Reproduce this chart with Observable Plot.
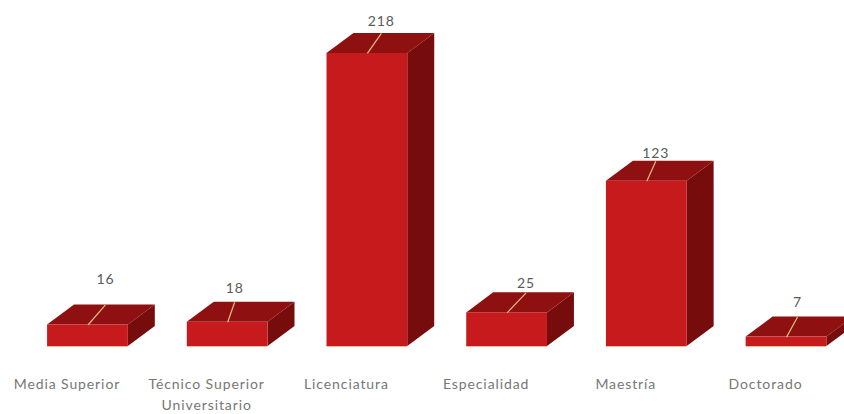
<!DOCTYPE html>
<html><head><meta charset="utf-8">
<style>html,body{margin:0;padding:0;background:#fff}svg{display:block}</style>
<script src="https://cdn.jsdelivr.net/npm/d3@7"></script>
<script src="https://cdn.jsdelivr.net/npm/@observablehq/plot@0.6"></script>
</head><body><div id="chart"></div>
<script>
const categories = ["Media Superior", "Técnico Superior\nUniversitario", "Licenciatura", "Especialidad", "Maestría", "Doctorado"];
const values = [16, 18, 218, 25, 123, 7];

// Layout of the pseudo-3D box, in scale units
const halfWidth = 0.289, depthX = 0.193, depthY = 14.9;
// The source's data labels were moved by hand: horizontal shift (x units), extra lift (y units)
const labelShift = [0.125, 0.05, 0.1, 0.136, 0.064, 0.079];
const labelLift = [10, 1.5, 0, -2, -3.5, 2];
const bars = values.map((v, i) => ({i, v, cat: categories[i]}));

// Parallelogram faces as two-row areas
const topFace = bars.flatMap(d => [
  {i: d.i, x1: d.i - halfWidth, x2: d.i + halfWidth, y: d.v},
  {i: d.i, x1: d.i - halfWidth + depthX, x2: d.i + halfWidth + depthX, y: d.v + depthY}
]);
const sideFace = bars.flatMap(d => [
  {i: d.i, x: d.i + halfWidth, y1: 0, y2: d.v},
  {i: d.i, x: d.i + halfWidth + depthX, y1: depthY, y2: d.v + depthY}
]);

const chart = Plot.plot({
  width: 844, height: 414,
  marginLeft: 0, marginRight: 0, marginTop: 0, marginBottom: 68,
  style: {background: "#fff", fontFamily: "Lato, sans-serif", letterSpacing: "0.9px"},
  x: {domain: [-0.626, 5.415], axis: null},
  y: {domain: [0, 257.4], axis: null},
  marks: [
    Plot.area(sideFace, {x1: "x", x2: "x", y1: "y1", y2: "y2", z: "i", fill: "#760c0c"}),
    Plot.area(topFace, {x1: "x1", x2: "x2", y1: "y", y2: "y", z: "i", fill: "#8e1011"}),
    Plot.rect(bars, {
      x1: d => d.i - halfWidth, x2: d => d.i + halfWidth,
      y1: 0, y2: "v", fill: "#c61a1d"
    }),
    Plot.ruleY(bars, {
      y: 0, x1: d => d.i - halfWidth, x2: d => d.i + halfWidth,
      stroke: "#e8a070", strokeWidth: 1, strokeOpacity: 0.7
    }),
    Plot.link(bars, {
      x1: "i", y1: "v",
      x2: d => d.i + labelShift[d.i],
      y2: d => d.v + depthY,
      stroke: "#e3bd85", strokeWidth: 1.2
    }),
    Plot.text(bars, {
      x: d => d.i + labelShift[d.i],
      y: d => d.v + 24 + labelLift[d.i],
      text: "v", fill: "#5a5a5a", fontSize: 14
    }),
    Plot.axisX({
      ticks: d3.range(categories.length),
      tickFormat: i => categories[i],
      anchor: "bottom", tickSize: 0, tickPadding: 28,
      dx: -21, lineHeight: 1.47, fontSize: 14, fill: "#777777",
      label: null, lineAnchor: "top"
    })
  ]
});
document.getElementById("chart").append(chart);
</script></body></html>
